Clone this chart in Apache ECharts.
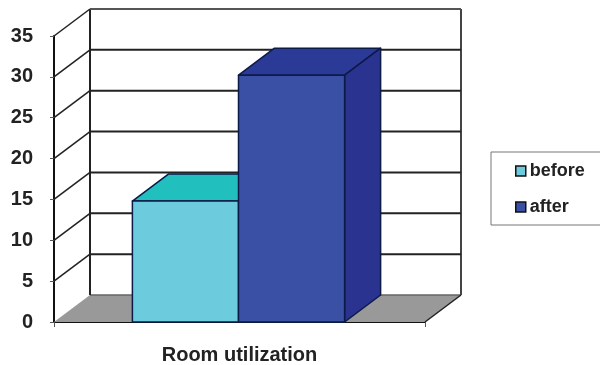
<!DOCTYPE html>
<html>
<head>
<meta charset="utf-8">
<style>html,body{margin:0;padding:0;background:#fff}#chart{width:600px;height:365px}</style>
<script src="https://cdn.jsdelivr.net/npm/echarts@6/dist/echarts.min.js"></script>
</head>
<body>
<div id="chart"></div>
<script>
// Room utilization before and after, as a pseudo-3D column chart
const categories = ['Room utilization'];
const seriesNames = ['before', 'after'];
const beforeValues = [14.8];
const afterValues = [30.2];
const yTicks = [0, 5, 10, 15, 20, 25, 30, 35];

const DEPTH_X = 36, DEPTH_Y = 27;        // oblique offset of the back wall
const BAR_FRACTION = 0.286;              // column width as a share of the band
const BAR_SHIFT = -1;                    // nudge of the column pair along the axis
const EDGE = '#0c1a48';

const chart = echarts.init(document.getElementById('chart'));

function line(x1, y1, x2, y2, stroke, width) {
  return { type: 'line', shape: { x1, y1, x2, y2 }, style: { stroke, lineWidth: width } };
}
function poly(points, fill, stroke) {
  return { type: 'polygon', shape: { points },
    style: { fill, stroke: stroke || 'none', lineWidth: stroke ? 1.5 : 0, lineJoin: 'round' } };
}

// Floor, back wall, gridlines and the slanted side-wall lines
function renderFrame(params, api) {
  const cs = params.coordSys, tick = api.value(0);
  const y = api.coord([0, tick])[1];
  const l = cs.x, r = cs.x + cs.width;
  const bl = l + DEPTH_X, br = r + DEPTH_X, by = y - DEPTH_Y;
  const items = [];
  if (tick === 0) {
    items.push(poly([[l, y], [bl, by], [br, by], [r, y]], '#999999'));
    items.push(line(bl, by, br, by, '#666', 1.5));
    items.push(line(r, y, br, by, '#222', 1.5));
    items.push(line(bl, by, bl, cs.y - DEPTH_Y, '#222', 2));
    items.push(line(br, by, br, cs.y - DEPTH_Y, '#444', 2));
  } else {
    items.push(line(bl, by, br, by, tick === 35 ? '#555' : '#222', 2));
    items.push(line(l, y, bl, by, '#222', 1.5));
  }
  return { type: 'group', children: items };
}

// One column: top face, right face and front face, growing away from the band centre
function makeColumnRenderer(direction, frontColor, topColor, sideColor) {
  return function (params, api) {
    const top = api.coord([api.value(0), api.value(1)]);
    const base = api.coord([api.value(0), 0]);
    const w = api.size([1, 0])[0] * BAR_FRACTION;
    const x0 = (direction < 0 ? top[0] - w : top[0]) + BAR_SHIFT;
    const x1 = x0 + w, yT = top[1], yB = base[1];
    return { type: 'group', children: [
      poly([[x0, yT], [x0 + DEPTH_X, yT - DEPTH_Y], [x1 + DEPTH_X, yT - DEPTH_Y], [x1, yT]], topColor, EDGE),
      poly([[x1, yT], [x1 + DEPTH_X, yT - DEPTH_Y], [x1 + DEPTH_X, yB - DEPTH_Y], [x1, yB]], sideColor, EDGE),
      poly([[x0, yT], [x1, yT], [x1, yB], [x0, yB]], frontColor, EDGE)
    ] };
  };
}

const FONT = '"Liberation Sans", Arial, sans-serif';

chart.setOption({
  animation: false,
  backgroundColor: '#ffffff',
  grid: { left: 54, right: 175, top: 36, bottom: 43 },
  legend: {
    data: [
      { name: seriesNames[0], itemStyle: { color: '#6CCBDD', borderColor: '#111', borderWidth: 1.5 } },
      { name: seriesNames[1], itemStyle: { color: '#3A50A4', borderColor: '#111', borderWidth: 1.5 } }
    ],
    orient: 'vertical', left: 491, top: 152,
    padding: [10, 100, 9, 24],
    itemWidth: 10, itemHeight: 10, itemGap: 18,
    icon: 'rect',
    backgroundColor: '#fff', borderColor: '#777', borderWidth: 1,
    textStyle: { fontFamily: FONT, fontWeight: 'bold', fontSize: 18, color: '#222', padding: [0, 0, 0, -1] }
  },
  xAxis: {
    type: 'category', data: categories,
    axisLine: { lineStyle: { color: '#111', width: 2 } },
    axisTick: { show: true, length: 5, lineStyle: { color: '#555', width: 1 } },
    axisLabel: { fontFamily: FONT, fontWeight: 'bold', fontSize: 20, color: '#222', margin: 23 }
  },
  yAxis: {
    type: 'value', min: 0, max: 35, interval: 5,
    axisLine: { show: true, lineStyle: { color: '#111', width: 2 } },
    axisTick: { show: true, length: 4, lineStyle: { color: '#555', width: 1 } },
    splitLine: { show: false },
    axisLabel: { fontFamily: FONT, fontWeight: 'bold', fontSize: 20, color: '#222', margin: 21, padding: [3, 0, 0, 0] }
  },
  series: [
    { type: 'custom', name: 'frame', z: 1, clip: false, silent: true,
      data: yTicks.map(t => [t]), encode: { y: 0 }, renderItem: renderFrame },
    { type: 'custom', name: seriesNames[0], z: 2, clip: false,
      itemStyle: { color: '#6CCBDD' },
      data: categories.map((c, i) => [i, beforeValues[i]]), encode: { x: 0, y: 1 },
      renderItem: makeColumnRenderer(-1, '#6CCBDD', '#22BFBF', '#1FA8A8') },
    { type: 'custom', name: seriesNames[1], z: 3, clip: false,
      itemStyle: { color: '#3A50A4' },
      data: categories.map((c, i) => [i, afterValues[i]]), encode: { x: 0, y: 1 },
      renderItem: makeColumnRenderer(1, '#3A50A4', '#2B3A96', '#2A3390') }
  ]
});
</script>
</body>
</html>
